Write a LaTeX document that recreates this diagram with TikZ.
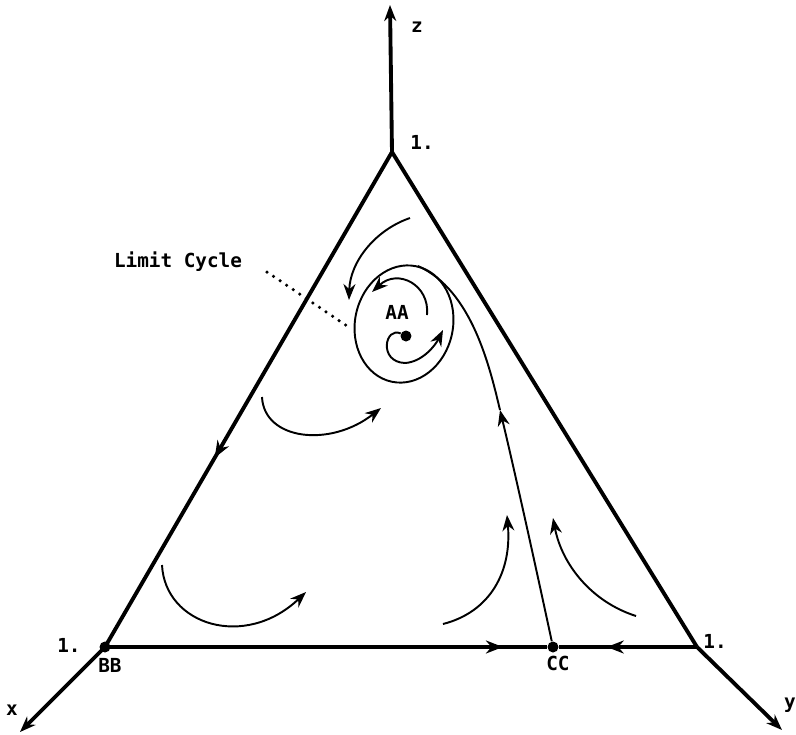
\documentclass[tikz,border=0pt]{standalone}
\usepackage{fontspec}
\setmonofont{DejaVu Sans Mono}
\usetikzlibrary{arrows.meta,decorations.markings}

\begin{document}
\begin{tikzpicture}[x=0.02cm,y=-0.02cm,
  every node/.style={font=\ttfamily\bfseries\fontsize{11}{13}\selectfont},
  edge/.style={line width=2.2pt},
  orbit/.style={line width=1.1pt},
  tip/.style={-{Stealth[length=3.2mm,width=2.4mm]}},
  midarrow/.style={postaction={decorate},decoration={markings,
    mark=at position #1 with {\arrow{Stealth[length=3.4mm,width=2.6mm]}}}},
  dot/.style={circle,fill,inner sep=0pt,minimum size=0.22cm}]
  \useasboundingbox (0,0) rectangle (796,735);

  % corners of the simplex and the axes
  \coordinate (T) at (392,152);
  \coordinate (L) at (105,647);
  \coordinate (R) at (697,647);
  \coordinate (ztip) at (390,5);
  \coordinate (xtip) at (20,732);
  \coordinate (ytip) at (782,730);
  \node[dot] (BB) at (L) {};
  \node[dot] (CC) at (553,647) {};
  \node[dot] (AA) at (406,336) {};

  \draw[edge,tip] (T) -- (ztip);
  \draw[edge,tip] (L) -- (xtip);
  \draw[edge,tip] (R) -- (ytip);
  \draw[edge,midarrow=0.618] (T) -- (L);
  \draw[edge] (T) -- (R);
  \draw[edge,midarrow=0.9] (L) -- (CC);
  \draw[edge,midarrow=0.653] (R) -- (CC);

  \node (zlabel) at (417,27) {z};
  \node (xlabel) at (12,710) {x};
  \node (ylabel) at (790,705) {y};
  \node (tone) at (422,142) {1.};
  \node (lone) at (69,645) {1.};
  \node (rone) at (715,641) {1.};
  \node (bblabel) at (110,665) {BB};
  \node (cclabel) at (558,663) {CC};
  \node (aalabel) at (397,312) {AA};

  % limit cycle round AA
  \coordinate (lc) at (404,324);
  \draw[orbit,rotate around={-12:(lc)}] (lc) ellipse [x radius=49,y radius=59];
  \draw[orbit,tip] (AA) .. controls (385,326) and (378,362) .. (405,363)
    .. controls (422,362) and (435,346) .. (443,330);
  \draw[orbit,tip] (427,315) .. controls (430,285) and (398,268) .. (372,292);
  \draw[orbit,tip] (410,218) .. controls (375,230) and (350,262) .. (349,300);

  % separatrix out of CC
  \coordinate (sep) at (500,410);
  \draw[orbit,tip] (CC) .. controls (530,540) and (512,460) .. (sep);
  \draw[orbit] (sep) .. controls (490,368) and (472,290) .. (418,266);

  % flow
  \draw[orbit,tip] (262,397) .. controls (264,440) and (330,448) .. (381,408);
  \draw[orbit,tip] (162,565) .. controls (165,625) and (245,650) .. (306,592);
  \draw[orbit,tip] (443,624) .. controls (490,612) and (512,572) .. (507,515);
  \draw[orbit,tip] (636,616) .. controls (592,602) and (562,565) .. (553,518);

  \node (lclabel) at (178,262) {Limit Cycle};
  \coordinate (lcstart) at (267,272);
  \coordinate (lcend) at (350,328);
  \draw[line width=2pt,line cap=round,dash pattern=on 0pt off 4.5pt] (lcstart) -- (lcend);
\end{tikzpicture}
\end{document}
